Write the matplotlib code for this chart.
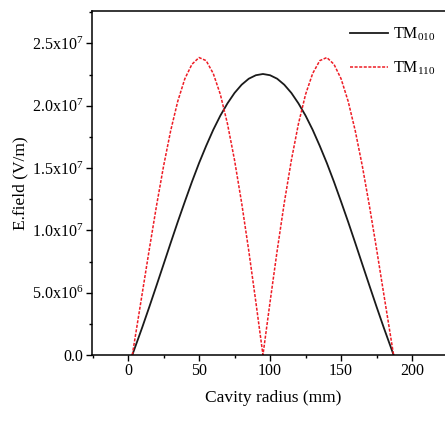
import matplotlib
matplotlib.use("Agg")
import matplotlib.pyplot as plt
from matplotlib.ticker import MultipleLocator

plt.rcParams['font.family'] = ['Liberation Serif', 'DejaVu Serif']
plt.rcParams['mathtext.fontset'] = 'custom'
plt.rcParams['mathtext.rm'] = 'Liberation Serif'
plt.rcParams['mathtext.it'] = 'Liberation Serif:italic'

# cavity radius (mm)
radius = [3, 10, 15, 20, 25, 30, 35, 40, 45, 50, 55, 60, 65, 70, 75, 80, 85, 90, 95,
          100, 105, 110, 115, 120, 125, 130, 135, 140, 145, 150, 155, 160, 165, 170,
          175, 180, 187]

# E field (V/m)
tm010 = [0, 0.222, 0.387, 0.556, 0.727, 0.899, 1.068, 1.231, 1.390, 1.540, 1.678,
         1.807, 1.921, 2.019, 2.103, 2.169, 2.217, 2.245, 2.255,
         2.245, 2.217, 2.169, 2.103, 2.019, 1.921, 1.807, 1.678, 1.540, 1.390, 1.231,
         1.068, 0.899, 0.727, 0.556, 0.387, 0.222, 0]
tm110 = [0, 0.495, 0.851, 1.195, 1.515, 1.799, 2.036, 2.217, 2.333, 2.387, 2.362,
         2.259, 2.091, 1.856, 1.563, 1.220, 0.837, 0.425, 0,
         0.425, 0.837, 1.220, 1.563, 1.856, 2.091, 2.259, 2.362, 2.387, 2.333, 2.217,
         2.036, 1.799, 1.515, 1.195, 0.851, 0.495, 0]
tm010 = [v * 1e7 for v in tm010]
tm110 = [v * 1e7 for v in tm110]

ytick_vals = [0, 0.5e7, 1.0e7, 1.5e7, 2.0e7, 2.5e7]
ytick_labels = ['0.0', '5.0x10$^{6}$', '1.0x10$^{7}$', '1.5x10$^{7}$',
                '2.0x10$^{7}$', '2.5x10$^{7}$']

fig = plt.figure(figsize=(4.45, 4.22), dpi=100)
# axes runs past the right edge of the picture, like the cropped original
ax = fig.add_axes([0.2067, 0.1588, 0.815, 0.815])

ax.plot(radius, tm010, color='#1a1a1a', lw=1.3, label='TM$_{010}$')
ax.plot(radius, tm110, color='#ee1c25', lw=1.1, ls=(0, (2.0, 1.0)), label='TM$_{110}$')

ax.set_xlim(-25.4, 230)
ax.set_ylim(0, 2.76e7)
ax.xaxis.set_major_locator(MultipleLocator(50))
ax.xaxis.set_minor_locator(MultipleLocator(25))
ax.set_yticks(ytick_vals)
ax.set_yticklabels(ytick_labels)
ax.yaxis.set_minor_locator(MultipleLocator(0.25e7))
ax.tick_params(which='major', direction='out', length=4, width=1, labelsize=11.5, pad=2)
ax.tick_params(which='minor', direction='out', length=2.5, width=1)
for s in ax.spines.values():
    s.set_linewidth(1.1)

ax.set_xlabel('Cavity radius (mm)', fontsize=12.5, labelpad=8)
ax.set_ylabel('E.field (V/m)', fontsize=12.5, labelpad=3)

fig.legend(loc='upper left', bbox_to_anchor=(0.776, 0.95), frameon=False,
           fontsize=11.5, handlelength=2.4, labelspacing=1.0, handletextpad=0.3,
           borderaxespad=0, borderpad=0.3)

fig.savefig('out.png', dpi=100)
